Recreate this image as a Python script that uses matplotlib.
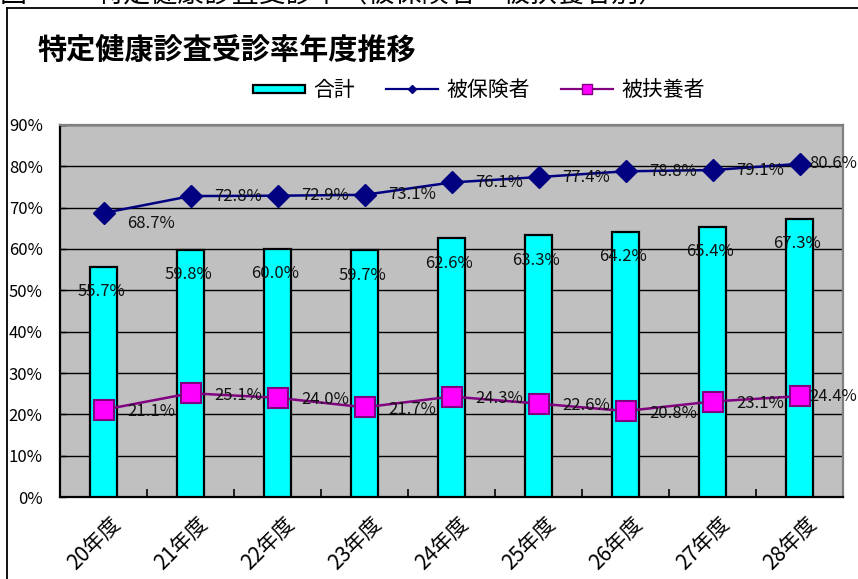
import matplotlib
matplotlib.use("Agg")
import matplotlib.pyplot as plt
import numpy as np
from matplotlib.patches import Rectangle, Patch
from matplotlib.lines import Line2D
from matplotlib.legend_handler import HandlerPatch
from matplotlib.transforms import ScaledTranslation, blended_transform_factory

plt.rcParams['font.family'] = ['Noto Sans CJK JP', 'DejaVu Sans']

# ---- data -------------------------------------------------------------
years = ["20年度", "21年度", "22年度", "23年度", "24年度",
         "25年度", "26年度", "27年度", "28年度"]
total = [55.7, 59.8, 60.0, 59.7, 62.6, 63.3, 64.2, 65.4, 67.3]        # 合計
insured = [68.7, 72.8, 72.9, 73.1, 76.1, 77.4, 78.8, 79.1, 80.6]      # 被保険者
dependents = [21.1, 25.1, 24.0, 21.7, 24.3, 22.6, 20.8, 23.1, 24.4]   # 被扶養者
yticks = [0, 10, 20, 30, 40, 50, 60, 70, 80, 90]

# ---- figure -----------------------------------------------------------
W, H = 858, 579
fig = plt.figure(figsize=(W / 100, H / 100), dpi=100)
fig.patch.set_facecolor("white")

# heading line above the chart box (runs off the top of the page)
fig.text(0 / W, 1 - 1.5 / H, "図", fontsize=19.5, va="baseline", ha="left")
fig.text(96 / W, 1 - 1.5 / H, "特定健康診査受診率（被保険者・被扶養者別）",
         fontsize=19.5, va="baseline", ha="left")

# chart box border
fig.add_artist(Line2D([7 / W, 7 / W], [1 - 8 / H, 0], color="black", lw=1.3,
                      transform=fig.transFigure))
fig.add_artist(Line2D([7 / W, 1], [1 - 8 / H, 1 - 8 / H], color="black", lw=1.3,
                      transform=fig.transFigure))

# chart title
fig.text(38 / W, 1 - 50 / H, "特定健康診査受診率年度推移", fontsize=21,
         weight="bold", va="center", ha="left")

# ---- plot area --------------------------------------------------------
ax = fig.add_axes([60 / W, 1 - 497 / H, 783 / W, (497 - 125) / H])
ax.set_facecolor("#C0C0C0")
x = np.arange(len(years))

ax.bar(x, total, width=0.3, color="#00FFFF", edgecolor="black",
       linewidth=1.6, zorder=3)
ax.plot(x, insured, color="#000080", lw=1.8, marker="D", ms=11,
        mfc="#000080", mec="#000080", zorder=4)
ax.plot(x, dependents, color="#800080", lw=1.8, marker="s", ms=14,
        mfc="#FF00FF", mec="#800080", mew=1.5, zorder=4)

ax.set_xlim(-0.5, len(years) - 0.5)
ax.set_ylim(0, 90)
ax.set_yticks(yticks)
ax.set_yticklabels([f"{t}%" for t in yticks], fontsize=12)
ax.yaxis.grid(True, color="black", lw=1)
ax.set_axisbelow(True)
ax.tick_params(axis="y", direction="in", length=4, width=1, pad=12.5)

ax.set_xticks(x)
ax.set_xticklabels([])
ax.tick_params(axis="x", which="major", length=0)
ax.set_xticks(x[:-1] + 0.5, minor=True)
ax.tick_params(axis="x", which="minor", direction="in", length=6, width=1.2)

for side in ("left", "bottom"):
    ax.spines[side].set_color("black")
    ax.spines[side].set_linewidth(1.6)
for side in ("top", "right"):
    ax.spines[side].set_color("#808080")
    ax.spines[side].set_linewidth(1.6)

# rotated category labels
xlab_tr = blended_transform_factory(ax.transData, ax.transAxes) + \
    ScaledTranslation(6 / 100, -16 / 100, fig.dpi_scale_trans)
for i, lab in enumerate(years):
    ax.text(i, 0, lab, transform=xlab_tr, rotation=45, ha="right", va="top",
            rotation_mode="anchor", fontsize=15)

# ---- value labels -----------------------------------------------------
lab_kw = dict(fontsize=12, color="#111111", zorder=6, annotation_clip=False)
last = len(years) - 1
for i, v in enumerate(total):
    ax.annotate(f"{v:.1f}%", (i, v), xytext=(-1.5, -18),
                textcoords="offset points", ha="center", va="center", **lab_kw)

for series, dy in ((insured, 0.0), (dependents, -1.5)):
    for i, v in enumerate(series):
        txt = f"{v:.1f}%"
        if i == last:
            ax.annotate(txt, (i, v), xytext=(857 / W, v),
                        textcoords=("figure fraction", "data"),
                        ha="right", va="center", **lab_kw)
        else:
            off = dy - 7.5 if (series is insured and i == 0) else dy
            ax.annotate(txt, (i, v), xytext=(17, off),
                        textcoords="offset points", ha="left", va="center",
                        **lab_kw)

# ---- legend -----------------------------------------------------------
def flat_box(legend, orig_handle, xdescent, ydescent, width, height, fontsize):
    h = 5.8
    return Rectangle((-xdescent, -ydescent + (height - h) / 2), width, h)

handles = [
    Patch(facecolor="#00FFFF", edgecolor="black", linewidth=1.6),
    Line2D([], [], color="#000080", lw=1.6, marker="D", ms=4,
           mfc="#000080", mec="#000080"),
    Line2D([], [], color="#800080", lw=1.6, marker="s", ms=7,
           mfc="#FF00FF", mec="#800080", mew=1),
]
fig.legend(handles, ["合計", "被保険者", "被扶養者"], ncol=3, frameon=False,
           loc="center", bbox_to_anchor=(479 / W, 1 - 90 / H),
           fontsize=15, handlelength=2.5, handletextpad=0.4,
           columnspacing=1.5, handler_map={Patch: HandlerPatch(patch_func=flat_box)})

fig.savefig("out.png", dpi=100)
